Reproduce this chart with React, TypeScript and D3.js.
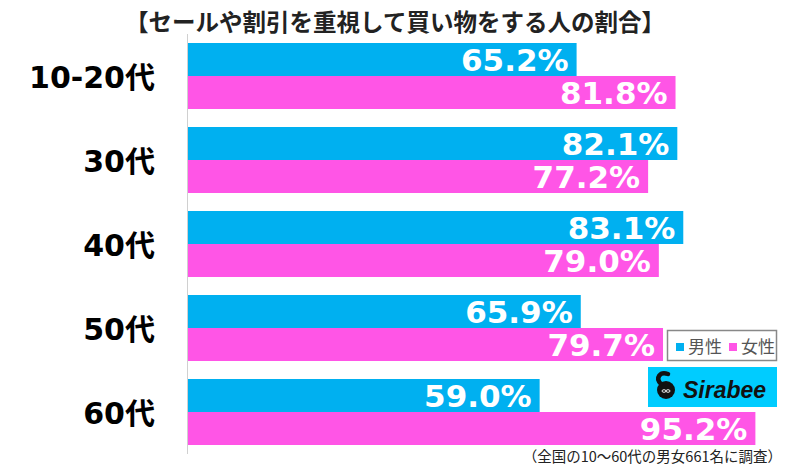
import React from "react";
import * as d3 from "d3";

const title = "【セールや割引を重視して買い物をする人の割合】";
const categories = ["10-20代", "30代", "40代", "50代", "60代"];
const maleValues = [65.2, 82.1, 83.1, 65.9, 59.0];
const femaleValues = [81.8, 77.2, 79.0, 79.7, 95.2];
const seriesNames = ["男性", "女性"];
const footnote = "（全国の10〜60代の男女661名に調査）";

const W = 800;
const H = 466;
const BLUE = "#00b0f0";
const PINK = "#ff55e6";

export default function App() {
  const x = d3.scaleLinear().domain([0, 100]).range([188, 784]);
  const y = d3
    .scaleBand<string>()
    .domain(categories)
    .range([34, 454])
    .paddingInner(18 / 84)
    .paddingOuter(9 / 84);
  const bh = y.bandwidth() / 2;
  const valueFont = "'DejaVu Sans', 'Noto Sans CJK JP', sans-serif";
  const fmt = (v: number) => v.toFixed(1) + "%";

  const series = [
    { values: maleValues, color: BLUE, offset: 0 },
    { values: femaleValues, color: PINK, offset: 1 },
  ];

  return (
    <svg
      width={W}
      height={H}
      style={{ position: "absolute", left: 0, top: 0, background: "#fff" }}
    >
      <text
        x={395}
        y={31}
        textAnchor="middle"
        fontFamily="'Noto Sans CJK JP', sans-serif"
        fontWeight={700}
        fontSize={23.5}
        fill="#222"
      >
        {title}
      </text>

      {series.map((s, si) =>
        categories.map((c, i) => {
          const top = (y(c) as number) + s.offset * bh;
          const v = s.values[i];
          return (
            <g key={`${si}-${c}`}>
              <rect
                x={x(0)}
                y={top}
                width={x(v) - x(0)}
                height={bh}
                fill={s.color}
              />
              <text
                x={x(v) - 8}
                y={top + bh / 2 + 11.5}
                textAnchor="end"
                fontFamily={valueFont}
                fontWeight={700}
                fontSize={31}
                fill="#fff"
              >
                {fmt(v)}
              </text>
            </g>
          );
        })
      )}

      <line x1={x(0) - 0.5} x2={x(0) - 0.5} y1={34} y2={454} stroke="#d0d0d0" strokeWidth={1} />

      {categories.map((c) => (
        <text
          key={c}
          x={155}
          y={(y(c) as number) + y.bandwidth() / 2 + 11.5}
          textAnchor="end"
          fontFamily={valueFont}
          fontWeight={700}
          fontSize={30}
          fill="#000"
        >
          {c}
        </text>
      ))}

      {/* legend */}
      <rect x={667.5} y={330.5} width={109} height={30} fill="#fff" stroke="#888" strokeWidth={1.5} />
      <rect x={676} y={343} width={8} height={8} fill={BLUE} />
      <text x={688} y={353} fontFamily="'Noto Sans CJK JP', sans-serif" fontSize={17} fill="#555">
        {seriesNames[0]}
      </text>
      <rect x={729} y={343} width={8} height={8} fill={PINK} />
      <text x={741} y={353} fontFamily="'Noto Sans CJK JP', sans-serif" fontSize={17} fill="#555">
        {seriesNames[1]}
      </text>

      {/* logo */}
      <rect x={648} y={367} width={129} height={40} fill="#00ccff" />
      <circle cx={666} cy={390} r={9} fill="#111" />
      <path d="M 661 384 C 655 378, 660 371, 668 374" fill="none" stroke="#111" strokeWidth={4.5} strokeLinecap="round" />
      <ellipse cx={664} cy={391} rx={2} ry={1.3} fill="none" stroke="#fff" strokeWidth={0.9} />
      <ellipse cx={668} cy={391} rx={2} ry={1.3} fill="none" stroke="#fff" strokeWidth={0.9} />
      <text
        x={683}
        y={398}
        fontFamily="'Liberation Sans', Arial, sans-serif"
        fontWeight={700}
        fontStyle="italic"
        fontSize={23}
        fill="#111"
      >
        Sirabee
      </text>

      <text
        x={782}
        y={462}
        textAnchor="end"
        fontFamily="'Noto Sans CJK JP', sans-serif"
        fontSize={14.5}
        fill="#222"
      >
        {footnote}
      </text>
    </svg>
  );
}
